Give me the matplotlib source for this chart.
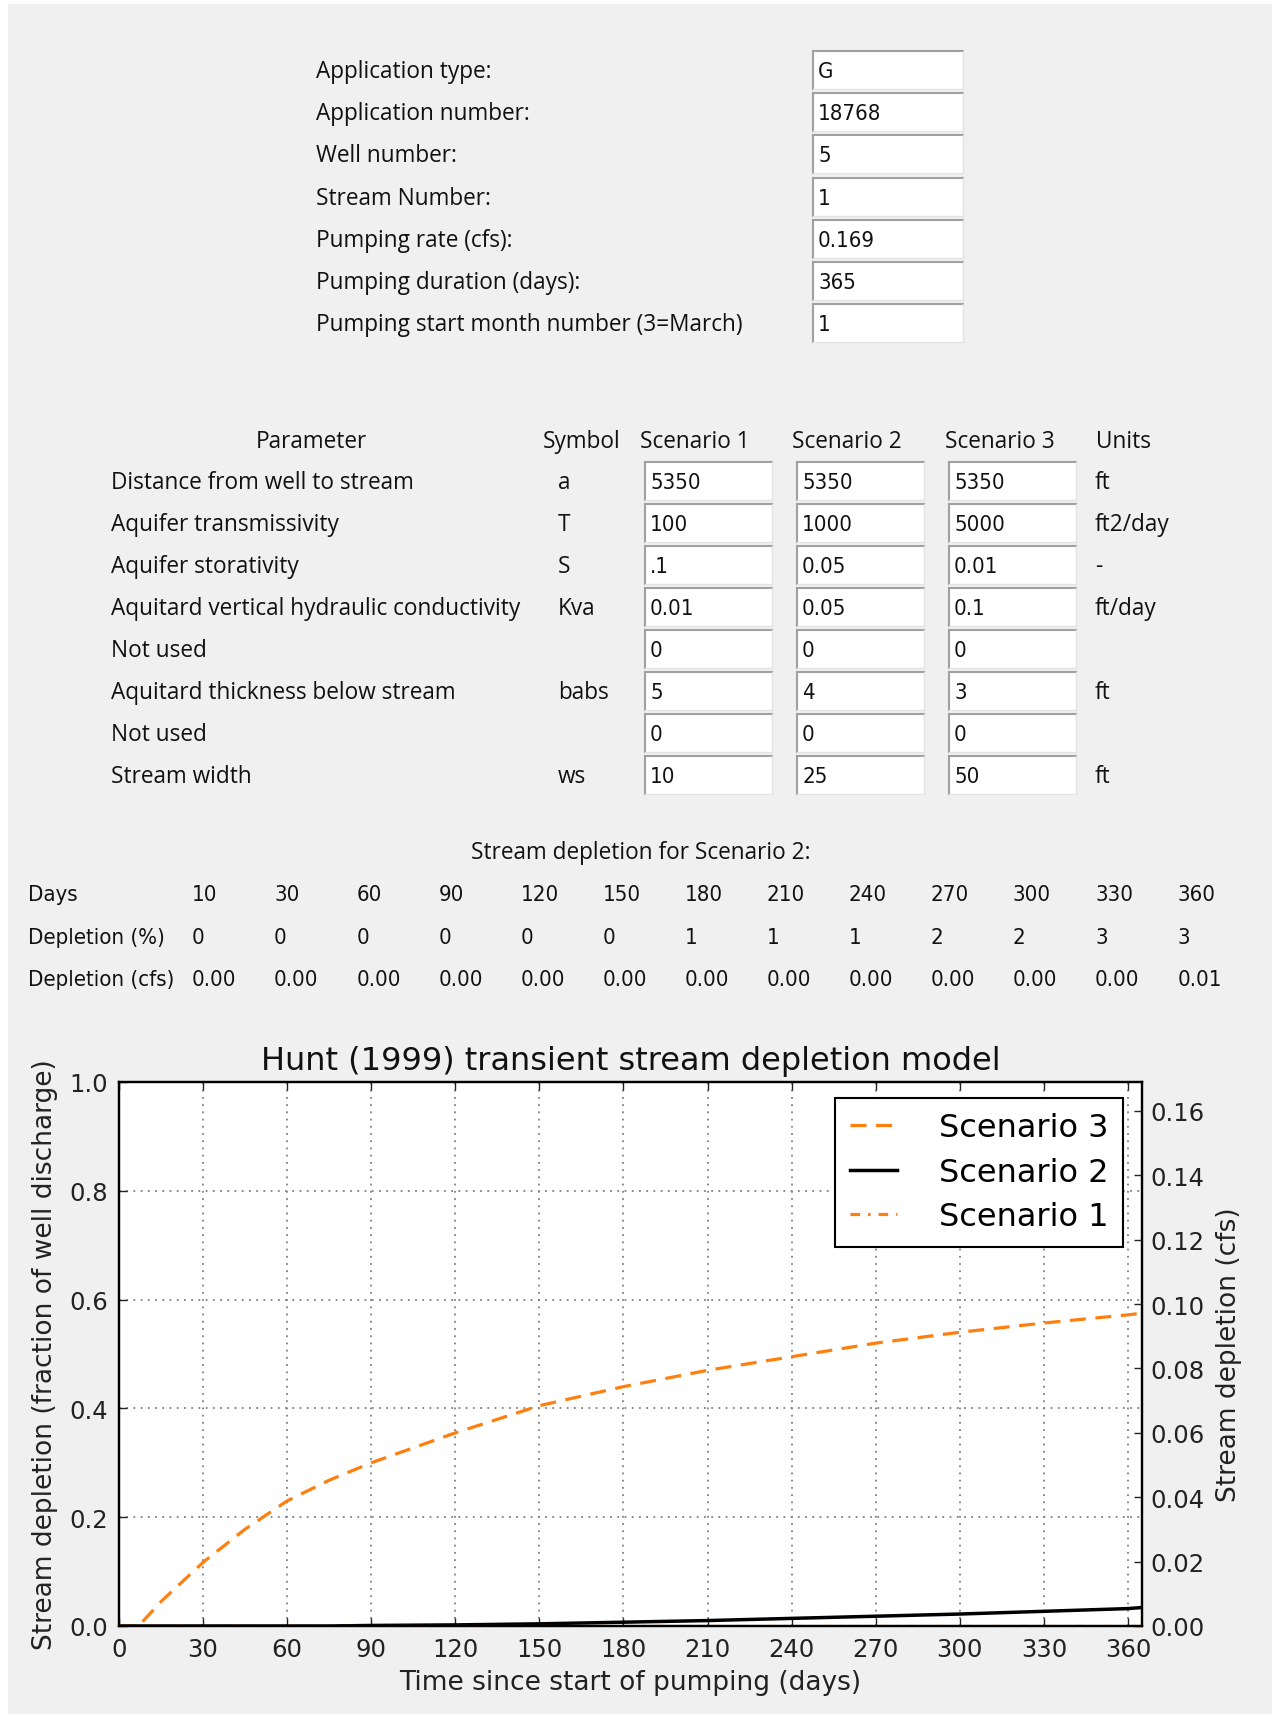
import numpy as np
import matplotlib
matplotlib.use('Agg')
import matplotlib.pyplot as plt
from matplotlib.patches import Rectangle
from matplotlib import font_manager as fm
from matplotlib.textpath import TextPath

# ── form data ────────────────────────────────────────────────────
form_labels = ['Application type:', 'Application number:', 'Well number:',
               'Stream Number:', 'Pumping rate (cfs):', 'Pumping duration (days):',
               'Pumping start month number (3=March)']
form_values = ['G', '18768', '5', '1', '0.169', '365', '1']

param_names = ['Distance from well to stream', 'Aquifer transmissivity',
               'Aquifer storativity', 'Aquitard vertical hydraulic conductivity',
               'Not used', 'Aquitard thickness below stream', 'Not used',
               'Stream width']
param_symbols = ['a', 'T', 'S', 'Kva', '', 'babs', '', 'ws']
scen1_inputs = ['5350', '100', '.1', '0.01', '0', '5', '0', '10']
scen2_inputs = ['5350', '1000', '0.05', '0.05', '0', '4', '0', '25']
scen3_inputs = ['5350', '5000', '0.01', '0.1', '0', '3', '0', '50']
param_units = ['ft', 'ft2/day', '-', 'ft/day', '', 'ft', '', 'ft']

table_days = [10, 30, 60, 90, 120, 150, 180, 210, 240, 270, 300, 330, 360]
table_pct = [0, 0, 0, 0, 0, 0, 1, 1, 1, 2, 2, 3, 3]
table_cfs = ['0.00', '0.00', '0.00', '0.00', '0.00', '0.00', '0.00',
             '0.00', '0.00', '0.00', '0.00', '0.00', '0.01']

# ── depletion curves (fraction of well discharge) ────────────────
days = [0, 7, 15, 30, 45, 60, 75, 90, 120, 150, 180, 210, 240, 270, 300, 330, 360, 365]
depl_s3 = [0, 0, 0.045, 0.117, 0.178, 0.23, 0.268, 0.30, 0.355, 0.405, 0.44,
           0.47, 0.495, 0.52, 0.54, 0.557, 0.572, 0.575]
depl_s2 = [0, 0, 0, 0, 0, 0, 0, 0.001, 0.002, 0.004, 0.007, 0.010, 0.014,
           0.018, 0.022, 0.027, 0.032, 0.034]
depl_s1 = [0] * len(days)
pump_rate = 0.169

W, H = 1272, 1715
GREY_BG = '#f0f0f0'
TXT = '#111111'
LBL_FONT = ['Open Sans', 'DejaVu Sans']
LBL_SIZE = 16.3

# narrow face for the numeric fields (windows dialog look), sized to ~12 px per digit
narrow = [f.fname for f in fm.fontManager.ttflist
          if ('Narrow' in f.fname or 'Condensed' in f.fname)
          and not any(k in f.fname for k in ('Bold', 'Oblique', 'Italic'))]
if narrow:
    num_prop = fm.FontProperties(fname=sorted(narrow)[0])
else:
    num_prop = fm.FontProperties(family='Liberation Sans')
probe = TextPath((0, 0), '0000000000', prop=num_prop.copy(), size=100)
NUM_SIZE = 100 * (124 * 72 / 100) / probe.get_extents().width
num_prop.set_size(NUM_SIZE)

fig = plt.figure(figsize=(W / 100, H / 100), dpi=100, facecolor='white')

# full-figure overlay in pixel coordinates for the form widgets
bg = fig.add_axes([0, 0, 1, 1])
bg.set_xlim(0, W)
bg.set_ylim(H, 0)
bg.axis('off')
bg.add_patch(Rectangle((8, 5), W - 8, H - 5, facecolor=GREY_BG, edgecolor='none'))


def entry(x0, x1, yc, txt):
    top, bot = yc - 20, yc + 18
    bg.add_patch(Rectangle((x0, top), x1 - x0, bot - top, facecolor='white',
                           edgecolor='none'))
    bg.plot([x0, x1], [top, top], color='#a0a0a0', lw=1.5)
    bg.plot([x0, x0], [top, bot], color='#a0a0a0', lw=1.5)
    bg.plot([x1, x1], [top, bot], color='#e3e3e3', lw=1)
    bg.plot([x0, x1], [bot, bot], color='#e3e3e3', lw=1)
    bg.text(x0 + 5, yc, txt, fontproperties=num_prop, va='center', color=TXT)


# ── top form ─────────────────────────────────────────────────────
for i, (lab, val) in enumerate(zip(form_labels, form_values)):
    y = 72 + 42.2 * i
    bg.text(316, y, lab, family=LBL_FONT, fontsize=LBL_SIZE, va='center', color=TXT)
    entry(813, 963, y, val)

# ── parameter table ──────────────────────────────────────────────
hy = 442
bg.text(311, hy, 'Parameter', family=LBL_FONT, fontsize=LBL_SIZE,
        va='center', ha='center', color=TXT)
for x, s in [(543, 'Symbol'), (640, 'Scenario 1'), (792, 'Scenario 2'),
             (945, 'Scenario 3'), (1096, 'Units')]:
    bg.text(x, hy, s, family=LBL_FONT, fontsize=LBL_SIZE, va='center', color=TXT)

box_cols = [(645, 772), (797, 924), (949, 1076)]
for i in range(len(param_names)):
    y = 483 + 42 * i
    bg.text(111, y, param_names[i], family=LBL_FONT, fontsize=LBL_SIZE,
            va='center', color=TXT)
    bg.text(558, y, param_symbols[i], family=LBL_FONT, fontsize=LBL_SIZE,
            va='center', color=TXT)
    for (x0, x1), col in zip(box_cols, [scen1_inputs, scen2_inputs, scen3_inputs]):
        entry(x0, x1, y, col[i])
    bg.text(1095, y, param_units[i], family=LBL_FONT, fontsize=LBL_SIZE,
            va='center', color=TXT)

# ── depletion table ──────────────────────────────────────────────
bg.text(471, 853, 'Stream depletion for Scenario 2:', family=LBL_FONT,
        fontsize=LBL_SIZE, va='center', color=TXT)
row_y = [895, 938, 980]
for y, lab in zip(row_y, ['Days', 'Depletion (%)', 'Depletion (cfs)']):
    bg.text(28, y, lab, fontproperties=num_prop, va='center', color=TXT)
for i in range(len(table_days)):
    x = 192 + 82.1 * i
    for y, v in zip(row_y, [table_days[i], table_pct[i], table_cfs[i]]):
        bg.text(x, y, str(v), fontproperties=num_prop, va='center', color=TXT)

# ── chart ────────────────────────────────────────────────────────
ax = fig.add_axes([119 / W, 1 - 1627 / H, (1142 - 119) / W, (1627 - 1083) / H])
ax.set_facecolor('white')
ax.plot(days, depl_s3, color='#ff7f0e', lw=2.3, linestyle=(0, (5, 3)),
        label='Scenario 3')
ax.plot(days, depl_s2, color='black', lw=2.5, label='Scenario 2')
ax.plot(days, depl_s1, color='#ff7f0e', lw=2.3, linestyle=(0, (3, 2.5, 0.8, 2.5)),
        label='Scenario 1')
ax.set_xlim(0, 365)
ax.set_ylim(0, 1.0)
ax.set_xticks(np.arange(0, 361, 30))
ax.set_yticks(np.arange(0, 1.01, 0.2))
ax.yaxis.set_major_formatter(plt.FormatStrFormatter('%.1f'))
ax.grid(True, color='#808080', linestyle=(0, (1, 3)), lw=1.3)
ax.tick_params(direction='in', length=6, width=1, pad=8, labelsize=17.5,
               top=True, colors='#222222')
for sp in ax.spines.values():
    sp.set_linewidth(1.6)
ax.set_title('Hunt (1999) transient stream depletion model', fontsize=23,
             pad=9, color=TXT)
ax.set_xlabel('Time since start of pumping (days)', fontsize=19, labelpad=6,
              color='#222222')
ax.set_ylabel('Stream depletion (fraction of well discharge)', fontsize=19,
              labelpad=8, color='#222222')
leg = ax.legend(loc='upper right', bbox_to_anchor=(0.9814, 0.9706), fontsize=23,
                fancybox=False, edgecolor='black', framealpha=1, handlelength=1.5,
                handletextpad=1.3, labelspacing=0.42, borderpad=0.45,
                borderaxespad=0)
leg.get_frame().set_linewidth(1.5)

ax2 = ax.twinx()
ax2.set_ylim(0, pump_rate)
ax2.set_yticks(np.arange(0, 0.161, 0.02))
ax2.yaxis.set_major_formatter(plt.FormatStrFormatter('%.2f'))
ax2.tick_params(direction='in', length=6, width=1, pad=6, labelsize=17.5,
                colors='#222222')
ax2.set_ylabel('Stream depletion (cfs)', fontsize=19, labelpad=8, color='#222222')
for sp in ax2.spines.values():
    sp.set_linewidth(1.6)

fig.savefig('out.png', dpi=100, facecolor='white')
